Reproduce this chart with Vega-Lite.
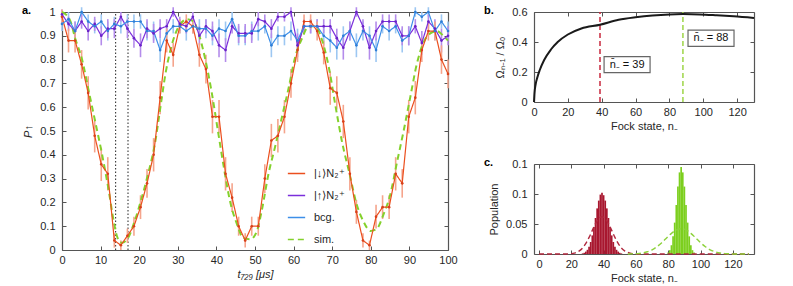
{
"$schema": "https://vega.github.io/schema/vega-lite/v6.json",
"background": "white",
"padding": {"left": 22, "top": 5, "right": 5, "bottom": 5},
"config": {
  "font": "Liberation Sans",
  "view": {"stroke": null},
  "axis": {"labelFont": "Liberation Sans", "labelFontSize": 11, "labelColor": "#262626", "titleFont": "Liberation Sans", "titleFontSize": 11, "titleFontWeight": "normal", "titleColor": "#262626", "domainColor": "#555555", "tickColor": "#555555", "grid": false, "tickSize": -4, "labelPadding": 8, "domainWidth": 1.2, "labelOverlap": false, "labelFlush": false},
  "axisY": {"labelPadding": 11, "titlePadding": 6},
  "title": {"font": "Liberation Sans", "fontSize": 11, "fontWeight": "bold", "anchor": "start", "frame": "group", "color": "#000"}
},
"datasets": {
"dots": [{"t": 13.9}, {"t": 17.1}],
"pa": [
{"t":0,"P":0.98,"e":0.03,"s":"dn"},{"t":1.69,"P":0.88,"e":0.05,"s":"dn"},{"t":3.39,"P":0.88,"e":0.05,"s":"dn"},{"t":5.08,"P":0.78,"e":0.06,"s":"dn"},{"t":6.78,"P":0.66,"e":0.07,"s":"dn"},{"t":8.47,"P":0.48,"e":0.07,"s":"dn"},{"t":10.17,"P":0.36,"e":0.07,"s":"dn"},{"t":11.86,"P":0.32,"e":0.07,"s":"dn"},{"t":13.56,"P":0.04,"e":0.03,"s":"dn"},{"t":15.25,"P":0.02,"e":0.02,"s":"dn"},{"t":16.95,"P":0.06,"e":0.03,"s":"dn"},{"t":18.64,"P":0.10,"e":0.04,"s":"dn"},{"t":20.34,"P":0.18,"e":0.05,"s":"dn"},{"t":22.03,"P":0.28,"e":0.06,"s":"dn"},{"t":23.73,"P":0.40,"e":0.07,"s":"dn"},{"t":25.42,"P":0.64,"e":0.07,"s":"dn"},{"t":27.12,"P":0.88,"e":0.05,"s":"dn"},{"t":28.81,"P":0.82,"e":0.05,"s":"dn"},{"t":30.51,"P":0.94,"e":0.03,"s":"dn"},{"t":32.2,"P":0.96,"e":0.03,"s":"dn"},{"t":33.9,"P":0.94,"e":0.03,"s":"dn"},{"t":35.59,"P":0.82,"e":0.05,"s":"dn"},{"t":37.29,"P":0.76,"e":0.06,"s":"dn"},{"t":38.98,"P":0.56,"e":0.07,"s":"dn"},{"t":40.68,"P":0.56,"e":0.07,"s":"dn"},{"t":42.37,"P":0.32,"e":0.07,"s":"dn"},{"t":44.07,"P":0.22,"e":0.06,"s":"dn"},{"t":45.76,"P":0.10,"e":0.04,"s":"dn"},{"t":47.46,"P":0.04,"e":0.03,"s":"dn"},{"t":49.15,"P":0.10,"e":0.04,"s":"dn"},{"t":50.85,"P":0.10,"e":0.04,"s":"dn"},{"t":52.54,"P":0.30,"e":0.06,"s":"dn"},{"t":54.24,"P":0.46,"e":0.07,"s":"dn"},{"t":55.93,"P":0.48,"e":0.07,"s":"dn"},{"t":57.63,"P":0.56,"e":0.07,"s":"dn"},{"t":59.32,"P":0.70,"e":0.06,"s":"dn"},{"t":61.02,"P":0.84,"e":0.05,"s":"dn"},{"t":62.71,"P":0.96,"e":0.03,"s":"dn"},{"t":64.41,"P":0.96,"e":0.03,"s":"dn"},{"t":66.1,"P":0.92,"e":0.04,"s":"dn"},{"t":67.8,"P":0.83,"e":0.05,"s":"dn"},{"t":69.49,"P":0.68,"e":0.07,"s":"dn"},{"t":71.19,"P":0.66,"e":0.07,"s":"dn"},{"t":72.88,"P":0.54,"e":0.07,"s":"dn"},{"t":74.58,"P":0.32,"e":0.07,"s":"dn"},{"t":76.27,"P":0.16,"e":0.05,"s":"dn"},{"t":77.97,"P":0.04,"e":0.03,"s":"dn"},{"t":79.66,"P":0.02,"e":0.02,"s":"dn"},{"t":81.36,"P":0.14,"e":0.05,"s":"dn"},{"t":83.05,"P":0.18,"e":0.05,"s":"dn"},{"t":84.75,"P":0.18,"e":0.05,"s":"dn"},{"t":86.44,"P":0.32,"e":0.07,"s":"dn"},{"t":88.14,"P":0.28,"e":0.06,"s":"dn"},{"t":89.83,"P":0.56,"e":0.07,"s":"dn"},{"t":91.53,"P":0.64,"e":0.07,"s":"dn"},{"t":93.22,"P":0.84,"e":0.05,"s":"dn"},{"t":94.92,"P":0.92,"e":0.04,"s":"dn"},{"t":96.61,"P":0.92,"e":0.04,"s":"dn"},{"t":98.31,"P":0.80,"e":0.06,"s":"dn"},{"t":100,"P":0.74,"e":0.06,"s":"dn"},
{"t":0,"P":0.99,"e":0.02,"s":"up"},{"t":1.69,"P":0.95,"e":0.03,"s":"up"},{"t":3.39,"P":0.92,"e":0.04,"s":"up"},{"t":5.08,"P":0.96,"e":0.03,"s":"up"},{"t":6.78,"P":0.92,"e":0.04,"s":"up"},{"t":8.47,"P":0.95,"e":0.03,"s":"up"},{"t":10.17,"P":0.90,"e":0.04,"s":"up"},{"t":11.86,"P":0.93,"e":0.04,"s":"up"},{"t":13.56,"P":0.93,"e":0.04,"s":"up"},{"t":15.25,"P":0.98,"e":0.02,"s":"up"},{"t":16.95,"P":0.93,"e":0.04,"s":"up"},{"t":18.64,"P":0.89,"e":0.04,"s":"up"},{"t":20.34,"P":0.86,"e":0.05,"s":"up"},{"t":22.03,"P":0.93,"e":0.04,"s":"up"},{"t":23.73,"P":0.91,"e":0.04,"s":"up"},{"t":25.42,"P":0.93,"e":0.04,"s":"up"},{"t":27.12,"P":0.94,"e":0.03,"s":"up"},{"t":28.81,"P":1.0,"e":0.02,"s":"up"},{"t":30.51,"P":0.95,"e":0.03,"s":"up"},{"t":32.2,"P":0.94,"e":0.03,"s":"up"},{"t":33.9,"P":0.98,"e":0.02,"s":"up"},{"t":35.59,"P":0.90,"e":0.04,"s":"up"},{"t":37.29,"P":0.94,"e":0.03,"s":"up"},{"t":38.98,"P":0.92,"e":0.04,"s":"up"},{"t":40.68,"P":0.86,"e":0.05,"s":"up"},{"t":42.37,"P":0.84,"e":0.05,"s":"up"},{"t":44.07,"P":0.94,"e":0.03,"s":"up"},{"t":45.76,"P":0.91,"e":0.04,"s":"up"},{"t":47.46,"P":0.91,"e":0.04,"s":"up"},{"t":49.15,"P":0.91,"e":0.04,"s":"up"},{"t":50.85,"P":0.97,"e":0.03,"s":"up"},{"t":52.54,"P":0.96,"e":0.03,"s":"up"},{"t":54.24,"P":0.93,"e":0.04,"s":"up"},{"t":55.93,"P":0.98,"e":0.02,"s":"up"},{"t":57.63,"P":0.98,"e":0.02,"s":"up"},{"t":59.32,"P":1.0,"e":0.02,"s":"up"},{"t":61.02,"P":0.86,"e":0.05,"s":"up"},{"t":62.71,"P":0.94,"e":0.03,"s":"up"},{"t":64.41,"P":0.94,"e":0.03,"s":"up"},{"t":66.1,"P":0.94,"e":0.03,"s":"up"},{"t":67.8,"P":0.94,"e":0.03,"s":"up"},{"t":69.49,"P":0.94,"e":0.03,"s":"up"},{"t":71.19,"P":0.89,"e":0.04,"s":"up"},{"t":72.88,"P":0.85,"e":0.05,"s":"up"},{"t":74.58,"P":0.92,"e":0.04,"s":"up"},{"t":76.27,"P":1.0,"e":0.02,"s":"up"},{"t":77.97,"P":0.94,"e":0.03,"s":"up"},{"t":79.66,"P":0.85,"e":0.05,"s":"up"},{"t":81.36,"P":0.92,"e":0.04,"s":"up"},{"t":83.05,"P":0.96,"e":0.03,"s":"up"},{"t":84.75,"P":0.96,"e":0.03,"s":"up"},{"t":86.44,"P":0.96,"e":0.03,"s":"up"},{"t":88.14,"P":0.90,"e":0.04,"s":"up"},{"t":89.83,"P":0.90,"e":0.04,"s":"up"},{"t":91.53,"P":0.94,"e":0.03,"s":"up"},{"t":93.22,"P":0.87,"e":0.05,"s":"up"},{"t":94.92,"P":0.96,"e":0.03,"s":"up"},{"t":96.61,"P":0.93,"e":0.04,"s":"up"},{"t":98.31,"P":0.88,"e":0.05,"s":"up"},{"t":100,"P":0.90,"e":0.04,"s":"up"},
{"t":0,"P":0.95,"e":0.03,"s":"bcg"},{"t":1.69,"P":0.97,"e":0.03,"s":"bcg"},{"t":3.39,"P":0.92,"e":0.04,"s":"bcg"},{"t":5.08,"P":1.0,"e":0.02,"s":"bcg"},{"t":6.78,"P":0.96,"e":0.03,"s":"bcg"},{"t":8.47,"P":0.94,"e":0.03,"s":"bcg"},{"t":10.17,"P":0.96,"e":0.03,"s":"bcg"},{"t":11.86,"P":0.92,"e":0.04,"s":"bcg"},{"t":13.56,"P":0.95,"e":0.03,"s":"bcg"},{"t":15.25,"P":0.94,"e":0.03,"s":"bcg"},{"t":16.95,"P":0.96,"e":0.03,"s":"bcg"},{"t":18.64,"P":0.96,"e":0.03,"s":"bcg"},{"t":20.34,"P":0.96,"e":0.03,"s":"bcg"},{"t":22.03,"P":0.92,"e":0.04,"s":"bcg"},{"t":23.73,"P":0.92,"e":0.04,"s":"bcg"},{"t":25.42,"P":0.84,"e":0.05,"s":"bcg"},{"t":27.12,"P":0.91,"e":0.04,"s":"bcg"},{"t":28.81,"P":0.94,"e":0.03,"s":"bcg"},{"t":30.51,"P":0.94,"e":0.03,"s":"bcg"},{"t":32.2,"P":0.92,"e":0.04,"s":"bcg"},{"t":33.9,"P":0.94,"e":0.03,"s":"bcg"},{"t":35.59,"P":0.93,"e":0.04,"s":"bcg"},{"t":37.29,"P":0.93,"e":0.04,"s":"bcg"},{"t":38.98,"P":0.90,"e":0.04,"s":"bcg"},{"t":40.68,"P":0.93,"e":0.04,"s":"bcg"},{"t":42.37,"P":0.92,"e":0.04,"s":"bcg"},{"t":44.07,"P":0.97,"e":0.03,"s":"bcg"},{"t":45.76,"P":0.90,"e":0.04,"s":"bcg"},{"t":47.46,"P":0.90,"e":0.04,"s":"bcg"},{"t":49.15,"P":0.92,"e":0.04,"s":"bcg"},{"t":50.85,"P":0.92,"e":0.04,"s":"bcg"},{"t":52.54,"P":0.94,"e":0.03,"s":"bcg"},{"t":54.24,"P":0.86,"e":0.05,"s":"bcg"},{"t":55.93,"P":0.90,"e":0.04,"s":"bcg"},{"t":57.63,"P":0.90,"e":0.04,"s":"bcg"},{"t":59.32,"P":0.92,"e":0.04,"s":"bcg"},{"t":61.02,"P":0.88,"e":0.05,"s":"bcg"},{"t":62.71,"P":0.94,"e":0.03,"s":"bcg"},{"t":64.41,"P":0.94,"e":0.03,"s":"bcg"},{"t":66.1,"P":0.94,"e":0.03,"s":"bcg"},{"t":67.8,"P":0.90,"e":0.04,"s":"bcg"},{"t":69.49,"P":0.88,"e":0.05,"s":"bcg"},{"t":71.19,"P":0.85,"e":0.05,"s":"bcg"},{"t":72.88,"P":0.90,"e":0.04,"s":"bcg"},{"t":74.58,"P":0.92,"e":0.04,"s":"bcg"},{"t":76.27,"P":0.86,"e":0.05,"s":"bcg"},{"t":77.97,"P":0.92,"e":0.04,"s":"bcg"},{"t":79.66,"P":0.90,"e":0.04,"s":"bcg"},{"t":81.36,"P":0.84,"e":0.05,"s":"bcg"},{"t":83.05,"P":0.94,"e":0.03,"s":"bcg"},{"t":84.75,"P":0.92,"e":0.04,"s":"bcg"},{"t":86.44,"P":0.94,"e":0.03,"s":"bcg"},{"t":88.14,"P":0.88,"e":0.05,"s":"bcg"},{"t":89.83,"P":0.90,"e":0.04,"s":"bcg"},{"t":91.53,"P":1.0,"e":0.02,"s":"bcg"},{"t":93.22,"P":0.98,"e":0.02,"s":"bcg"},{"t":94.92,"P":1.0,"e":0.02,"s":"bcg"},{"t":96.61,"P":0.92,"e":0.04,"s":"bcg"},{"t":98.31,"P":0.96,"e":0.03,"s":"bcg"},{"t":100,"P":0.92,"e":0.04,"s":"bcg"},
{"t":0,"P":1.0,"s":"sim"},{"t":2.1,"P":0.965,"s":"sim"},{"t":3.4,"P":0.89,"s":"sim"},{"t":5.2,"P":0.80,"s":"sim"},{"t":6.9,"P":0.67,"s":"sim"},{"t":8.6,"P":0.54,"s":"sim"},{"t":10.4,"P":0.40,"s":"sim"},{"t":12.1,"P":0.25,"s":"sim"},{"t":13.4,"P":0.12,"s":"sim"},{"t":14.2,"P":0.06,"s":"sim"},{"t":15.5,"P":0.03,"s":"sim"},{"t":17.1,"P":0.05,"s":"sim"},{"t":18.8,"P":0.12,"s":"sim"},{"t":20.5,"P":0.21,"s":"sim"},{"t":22.3,"P":0.32,"s":"sim"},{"t":24,"P":0.44,"s":"sim"},{"t":25.5,"P":0.60,"s":"sim"},{"t":26.8,"P":0.74,"s":"sim"},{"t":28.1,"P":0.84,"s":"sim"},{"t":29.4,"P":0.91,"s":"sim"},{"t":30.7,"P":0.95,"s":"sim"},{"t":32.4,"P":0.97,"s":"sim"},{"t":34.1,"P":0.96,"s":"sim"},{"t":35.4,"P":0.91,"s":"sim"},{"t":37,"P":0.81,"s":"sim"},{"t":38.7,"P":0.67,"s":"sim"},{"t":40.4,"P":0.50,"s":"sim"},{"t":41.9,"P":0.35,"s":"sim"},{"t":43.6,"P":0.20,"s":"sim"},{"t":45.3,"P":0.11,"s":"sim"},{"t":47,"P":0.05,"s":"sim"},{"t":48.8,"P":0.045,"s":"sim"},{"t":50.5,"P":0.08,"s":"sim"},{"t":51.8,"P":0.17,"s":"sim"},{"t":53.5,"P":0.32,"s":"sim"},{"t":55.3,"P":0.44,"s":"sim"},{"t":57,"P":0.56,"s":"sim"},{"t":58.7,"P":0.68,"s":"sim"},{"t":60.4,"P":0.81,"s":"sim"},{"t":62.2,"P":0.89,"s":"sim"},{"t":63.9,"P":0.94,"s":"sim"},{"t":65.6,"P":0.94,"s":"sim"},{"t":67.4,"P":0.88,"s":"sim"},{"t":69.1,"P":0.77,"s":"sim"},{"t":70.8,"P":0.61,"s":"sim"},{"t":72.6,"P":0.45,"s":"sim"},{"t":74.5,"P":0.32,"s":"sim"},{"t":76.2,"P":0.20,"s":"sim"},{"t":78.1,"P":0.12,"s":"sim"},{"t":79.9,"P":0.08,"s":"sim"},{"t":81.6,"P":0.09,"s":"sim"},{"t":83.3,"P":0.15,"s":"sim"},{"t":85,"P":0.23,"s":"sim"},{"t":86.8,"P":0.37,"s":"sim"},{"t":88.5,"P":0.50,"s":"sim"},{"t":90.2,"P":0.64,"s":"sim"},{"t":91.9,"P":0.78,"s":"sim"},{"t":93.6,"P":0.87,"s":"sim"},{"t":95.4,"P":0.91,"s":"sim"},{"t":97.1,"P":0.92,"s":"sim"},{"t":98.8,"P":0.90,"s":"sim"},{"t":100,"P":0.88,"s":"sim"}
],
"omega": [{"n":0,"v":0},{"n":0.3,"v":0.06},{"n":1,"v":0.12},{"n":2,"v":0.165},{"n":3.3,"v":0.21},{"n":6,"v":0.28},{"n":10,"v":0.35},{"n":14,"v":0.40},{"n":20,"v":0.45},{"n":28,"v":0.49},{"n":39,"v":0.515},{"n":50,"v":0.548},{"n":60,"v":0.565},{"n":70,"v":0.577},{"n":80,"v":0.584},{"n":88,"v":0.586},{"n":98,"v":0.584},{"n":108,"v":0.578},{"n":118,"v":0.571},{"n":130,"v":0.56}],
"nbar": [{"n": 39, "c": "r"}, {"n": 88, "c": "g"}],
"boxes": [{"n": 55, "v": 0.249, "label": "n̄₋ = 39"}, {"n": 104.6, "v": 0.425, "label": "n̄₋ = 88"}],
"redbars": [{"n":27,"p":0.001},{"n":28,"p":0.002},{"n":29,"p":0.004},{"n":30,"p":0.007},{"n":31,"p":0.012},{"n":32,"p":0.02},{"n":33,"p":0.031},{"n":34,"p":0.045},{"n":35,"p":0.06},{"n":36,"p":0.076},{"n":37,"p":0.089},{"n":38,"p":0.099},{"n":39,"p":0.102},{"n":40,"p":0.098},{"n":41,"p":0.089},{"n":42,"p":0.076},{"n":43,"p":0.06},{"n":44,"p":0.045},{"n":45,"p":0.031},{"n":46,"p":0.02},{"n":47,"p":0.012},{"n":48,"p":0.007},{"n":49,"p":0.004},{"n":50,"p":0.002},{"n":51,"p":0.001}],
"greenbars": [{"n":80,"p":0.0025},{"n":81,"p":0.0064},{"n":82,"p":0.0146},{"n":83,"p":0.0294},{"n":84,"p":0.0523},{"n":85,"p":0.0817},{"n":86,"p":0.1124},{"n":87,"p":0.136},{"n":88,"p":0.145},{"n":89,"p":0.136},{"n":90,"p":0.1124},{"n":91,"p":0.0817},{"n":92,"p":0.0523},{"n":93,"p":0.0294},{"n":94,"p":0.0146},{"n":95,"p":0.0064},{"n":96,"p":0.0025}],
"reddash": [{"n":0,"p":0},{"n":15,"p":0},{"n":17,"p":0.0001},{"n":19,"p":0.0004},{"n":21,"p":0.001},{"n":23,"p":0.0025},{"n":25,"p":0.0053},{"n":27,"p":0.0101},{"n":29,"p":0.0176},{"n":31,"p":0.0277},{"n":33,"p":0.0394},{"n":35,"p":0.0507},{"n":37,"p":0.059},{"n":39,"p":0.062},{"n":41,"p":0.059},{"n":43,"p":0.0507},{"n":45,"p":0.0394},{"n":47,"p":0.0277},{"n":49,"p":0.0176},{"n":51,"p":0.0101},{"n":53,"p":0.0053},{"n":55,"p":0.0025},{"n":57,"p":0.001},{"n":59,"p":0.0004},{"n":61,"p":0.0001},{"n":65,"p":0},{"n":130,"p":0}],
"greendash": [{"n":55,"p":0},{"n":58,"p":0.0003},{"n":61,"p":0.0007},{"n":64,"p":0.0017},{"n":67,"p":0.0037},{"n":70,"p":0.007},{"n":73,"p":0.0121},{"n":76,"p":0.0189},{"n":79,"p":0.0268},{"n":82,"p":0.0344},{"n":85,"p":0.04},{"n":88,"p":0.042},{"n":91,"p":0.04},{"n":94,"p":0.0344},{"n":97,"p":0.0268},{"n":100,"p":0.0189},{"n":103,"p":0.0121},{"n":106,"p":0.007},{"n":109,"p":0.0037},{"n":112,"p":0.0017},{"n":115,"p":0.0007},{"n":118,"p":0.0003},{"n":121,"p":0},{"n":130,"p":0}]
},
"spacing": 26,
"hconcat": [
{
 "width": 386, "height": 238,
 "title": {"text": "a.", "dx": -40, "offset": -10},
 "layer": [
  {"data": {"name": "dots"}, "mark": {"type": "rule", "strokeDash": [1.5, 2], "color": "#222", "strokeWidth": 1},
   "encoding": {
    "x": {"field": "t", "type": "quantitative", "scale": {"domain": [0, 100], "nice": false}, "axis": {"orient": "top", "labels": false, "title": null, "values": [0,10,20,30,40,50,60,70,80,90,100]}},
    "y": {"datum": 0, "type": "quantitative", "scale": {"domain": [0, 1], "nice": false}, "axis": {"orient": "right", "labels": false, "title": null, "values": [0,0.1,0.2,0.3,0.4,0.5,0.6,0.7,0.8,0.9,1]}},
    "y2": {"datum": 1}}},
  {"data": {"name": "pa"}, "transform": [{"filter": "datum.s == 'bcg'"}], "mark": {"type": "errorbar", "color": "#9DC7F2", "thickness": 1.6},
   "encoding": {"x": {"field": "t", "type": "quantitative", "axis": null}, "y": {"field": "P", "type": "quantitative", "axis": null}, "yError": {"field": "e"}}},
  {"data": {"name": "pa"}, "transform": [{"filter": "datum.s == 'up'"}], "mark": {"type": "errorbar", "color": "#B48CEB", "thickness": 1.6},
   "encoding": {"x": {"field": "t", "type": "quantitative", "axis": null}, "y": {"field": "P", "type": "quantitative", "axis": null}, "yError": {"field": "e"}}},
  {"data": {"name": "pa"}, "transform": [{"filter": "datum.s == 'dn'"}], "mark": {"type": "errorbar", "color": "#F5A48C", "thickness": 1.6},
   "encoding": {"x": {"field": "t", "type": "quantitative", "axis": null}, "y": {"field": "P", "type": "quantitative", "axis": null}, "yError": {"field": "e"}}},
  {"data": {"name": "pa"}, "transform": [{"filter": "datum.s == 'sim'"}], "mark": {"type": "line", "strokeWidth": 2, "interpolate": "monotone"},
   "encoding": {
    "x": {"field": "t", "type": "quantitative", "axis": null},
    "y": {"field": "P", "type": "quantitative", "axis": null},
    "color": {"field": "s", "type": "nominal", "scale": {"domain": ["dn", "up", "bcg", "sim"], "range": ["#EB4F1E", "#7B2FDB", "#3D8FE8", "#84D12C"]}},
    "strokeDash": {"field": "s", "type": "nominal", "scale": {"domain": ["dn", "up", "bcg", "sim"], "range": [[1, 0], [1, 0], [1, 0], [6, 4]]}}}},
  {"data": {"name": "pa"}, "transform": [{"filter": "datum.s != 'sim'"}], "mark": {"type": "line", "strokeWidth": 1.2},
   "encoding": {
    "x": {"field": "t", "type": "quantitative", "axis": {"title": "t₇₂₉ [μs]", "titleFontStyle": "italic", "values": [0,10,20,30,40,50,60,70,80,90,100], "titlePadding": 3}},
    "y": {"field": "P", "type": "quantitative", "axis": {"title": "P↑", "titleFontStyle": "italic", "values": [0,0.1,0.2,0.3,0.4,0.5,0.6,0.7,0.8,0.9,1], "format": "~g"}},
    "color": {"field": "s", "type": "nominal", "scale": {"domain": ["dn", "up", "bcg", "sim"], "range": ["#EB4F1E", "#7B2FDB", "#3D8FE8", "#84D12C"]},
      "legend": {"orient": "none", "legendX": 225, "legendY": 152, "title": null, "symbolType": "stroke", "symbolSize": 300, "symbolStrokeWidth": 1.6, "labelFontSize": 11, "labelFont": "Liberation Sans", "labelColor": "#262626", "rowPadding": 7, "labelOffset": 8,
        "labelExpr": "datum.label == 'dn' ? '|↓⟩N₂⁺' : datum.label == 'up' ? '|↑⟩N₂⁺' : datum.label == 'bcg' ? 'bcg.' : 'sim.'"}},
    "strokeDash": {"field": "s", "type": "nominal", "scale": {"domain": ["dn", "up", "bcg", "sim"], "range": [[1, 0], [1, 0], [1, 0], [6, 4]]}}}},
  {"data": {"name": "pa"}, "transform": [{"filter": "datum.s != 'sim'"}], "mark": {"type": "point", "filled": true, "size": 7, "opacity": 1},
   "encoding": {
    "x": {"field": "t", "type": "quantitative", "axis": null},
    "y": {"field": "P", "type": "quantitative", "axis": null},
    "fill": {"field": "s", "type": "nominal", "scale": {"domain": ["dn", "up", "bcg"], "range": ["#D8401A", "#6A22C8", "#2F7ED6"]}, "legend": null}}}
 ],
 "resolve": {"axis": {"x": "independent", "y": "independent"}}
},
{
 "spacing": 26,
 "vconcat": [
  {
   "width": 220, "height": 90,
   "title": {"text": "b.", "dx": -50, "offset": -10},
   "layer": [
    {"data": {"name": "nbar"}, "transform": [{"filter": "datum.c == 'r'"}], "mark": {"type": "rule", "color": "#C8283E", "strokeDash": [5, 3], "strokeWidth": 1.5},
     "encoding": {"x": {"field": "n", "type": "quantitative", "scale": {"domain": [0, 130], "nice": false}, "axis": {"orient": "top", "labels": false, "title": null, "values": [0,20,40,60,80,100,120]}},
      "y": {"datum": 0, "type": "quantitative", "scale": {"domain": [0, 0.6], "nice": false}, "axis": {"orient": "right", "labels": false, "title": null, "values": [0,0.2,0.4,0.6]}}, "y2": {"datum": 0.6}}},
    {"data": {"name": "nbar"}, "transform": [{"filter": "datum.c == 'g'"}], "mark": {"type": "rule", "color": "#9ED548", "strokeDash": [5, 3], "strokeWidth": 1.5},
     "encoding": {"x": {"field": "n", "type": "quantitative", "axis": null}, "y": {"datum": 0, "type": "quantitative", "axis": null}, "y2": {"datum": 0.6}}},
    {"data": {"name": "omega"}, "mark": {"type": "line", "color": "#1a1a1a", "strokeWidth": 2, "interpolate": "monotone"},
     "encoding": {"x": {"field": "n", "type": "quantitative", "axis": {"title": "Fock state, n₋", "values": [0,20,40,60,80,100,120], "titlePadding": 3}},
      "y": {"field": "v", "type": "quantitative", "axis": {"title": "Ωₙ₋₁ / Ω₀", "values": [0,0.2,0.4,0.6], "format": "~g"}}}},
    {"data": {"name": "boxes"}, "mark": {"type": "point", "shape": "M-1,-0.35H1V0.35H-1Z", "size": 2116, "filled": true, "fill": "white", "stroke": "#666", "strokeWidth": 1.2, "opacity": 1},
     "encoding": {"x": {"field": "n", "type": "quantitative", "axis": null}, "y": {"field": "v", "type": "quantitative", "axis": null}}},
    {"data": {"name": "boxes"}, "mark": {"type": "text", "fontSize": 11, "font": "Liberation Sans", "color": "#111"},
     "encoding": {"x": {"field": "n", "type": "quantitative", "axis": null}, "y": {"field": "v", "type": "quantitative", "axis": null}, "text": {"field": "label"}}}
   ],
   "resolve": {"axis": {"x": "independent", "y": "independent"}}
  },
  {
   "width": 220, "height": 90,
   "title": {"text": "c.", "dx": -50, "offset": -10},
   "layer": [
    {"data": {"name": "redbars"}, "mark": {"type": "bar", "color": "#A8172F", "width": 1.7},
     "encoding": {"x": {"field": "n", "type": "quantitative", "scale": {"domain": [0, 130], "nice": false}, "axis": {"title": "Fock state, n₋", "values": [0,20,40,60,80,100,120], "titlePadding": 3}},
      "y": {"field": "p", "type": "quantitative", "scale": {"domain": [0, 0.15], "nice": false}, "axis": {"title": "Population", "values": [0,0.05,0.1,0.15], "format": "~g"}}}},
    {"data": {"name": "greenbars"}, "mark": {"type": "bar", "color": "#7CCF1E", "width": 1.7},
     "encoding": {"x": {"field": "n", "type": "quantitative", "axis": {"orient": "top", "labels": false, "title": null, "values": [0,20,40,60,80,100,120]}},
      "y": {"field": "p", "type": "quantitative", "axis": {"orient": "right", "labels": false, "title": null, "values": [0,0.05,0.1,0.15]}}}},
    {"data": {"name": "reddash"}, "mark": {"type": "line", "color": "#B0283E", "strokeDash": [5, 3], "strokeWidth": 1.4, "interpolate": "monotone"},
     "encoding": {"x": {"field": "n", "type": "quantitative", "axis": null}, "y": {"field": "p", "type": "quantitative", "axis": null}}},
    {"data": {"name": "greendash"}, "mark": {"type": "line", "color": "#8CD23A", "strokeDash": [5, 3], "strokeWidth": 1.4, "interpolate": "monotone"},
     "encoding": {"x": {"field": "n", "type": "quantitative", "axis": null}, "y": {"field": "p", "type": "quantitative", "axis": null}}}
   ],
   "resolve": {"axis": {"x": "independent", "y": "independent"}}
  }
 ]
}
]
}
